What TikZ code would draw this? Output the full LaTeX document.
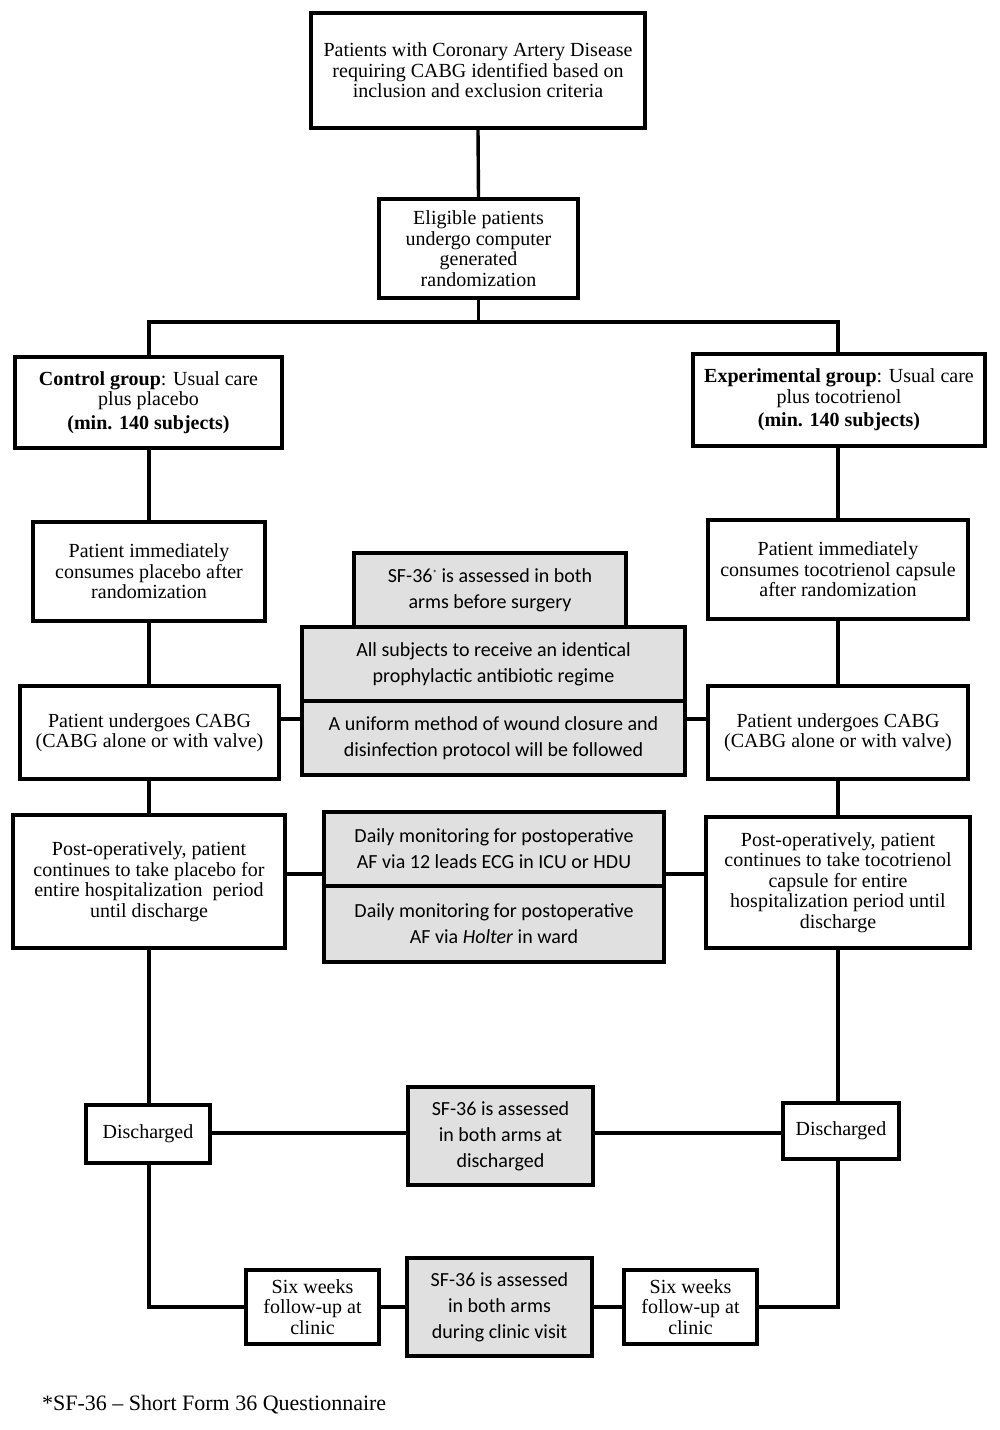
\documentclass[tikz,border=0pt]{standalone}
\usepackage{fontspec}
\setmainfont{Liberation Serif}
\newfontfamily\grayfont{Carlito}
\begin{document}
\begin{tikzpicture}[x=1pt,y=-1pt,
  box/.style={draw, line width=3.4pt, fill=white, align=center, inner sep=0pt,
    font=\fontsize{20}{20.5}\selectfont},
  gbox/.style={draw, line width=3.4pt, fill={rgb,255:red,224;green,224;blue,224}, align=center, inner sep=0pt,
    font=\grayfont\fontsize{20}{26}\selectfont},
  conn/.style={line width=3.4pt}]
\useasboundingbox (0,0) rectangle (1000,1430);
% nodes
\node[box, minimum width=334pt, minimum height=115pt] (top) at (478,70.5)
  {Patients with Coronary Artery Disease\\requiring CABG identified based on\\inclusion and exclusion criteria};
\node[box, minimum width=199pt, minimum height=99pt] (elig) at (478.5,248.5)
  {Eligible patients\\undergo computer\\generated\\randomization};
\node[box, minimum width=267pt, minimum height=91pt] (ctrl) at (148.5,402.5)
  {\textbf{Control group}: Usual care\\plus placebo\\[3pt]\textbf{(min. 140 subjects)}};
\node[box, minimum width=292pt, minimum height=92pt] (exp) at (839,400)
  {\textbf{Experimental group}: Usual care\\plus tocotrienol\\[3pt]\textbf{(min. 140 subjects)}};
\node[box, minimum width=232pt, minimum height=99pt] (plac) at (149,571.5)
  {Patient immediately\\consumes placebo after\\randomization};
\node[box, minimum width=260pt, minimum height=99pt] (toco) at (838,569.5)
  {Patient immediately\\consumes tocotrienol capsule\\after randomization};
\node[gbox, minimum width=272pt, minimum height=74pt] (sftop) at (490,590)
  {SF-36\raisebox{6pt}{\fontsize{9}{9}\selectfont *} is assessed in both\\arms before surgery};
\node[gbox, minimum width=383pt, minimum height=74pt] (allsub) at (493.5,664)
  {All subjects to receive an identical\\prophylactic antibiotic regime};
\node[gbox, minimum width=383pt, minimum height=74pt] (unif) at (493.5,738)
  {A uniform method of wound closure and\\disinfection protocol will be followed};
\node[box, minimum width=259pt, minimum height=93pt] (cabgL) at (149.5,732.5)
  {Patient undergoes CABG\\(CABG alone or with valve)};
\node[box, minimum width=260pt, minimum height=93pt] (cabgR) at (838,732.5)
  {Patient undergoes CABG\\(CABG alone or with valve)};
\node[box, minimum width=272pt, minimum height=133pt] (postL) at (149,881.5)
  {Post-operatively, patient\\continues to take placebo for\\entire hospitalization\ \ period\\until discharge};
\node[gbox, minimum width=340pt, minimum height=74pt] (day1) at (494,849)
  {Daily monitoring for postoperative\\AF via 12 leads ECG in ICU or HDU};
\node[gbox, minimum width=340pt, minimum height=76pt] (day2) at (494,924)
  {Daily monitoring for postoperative\\AF via \textit{Holter} in ward};
\node[box, minimum width=264pt, minimum height=131pt] (postR) at (838,882.5)
  {Post-operatively, patient\\continues to take tocotrienol\\capsule for entire\\hospitalization period until\\discharge};
\node[box, minimum width=124pt, minimum height=58pt] (dischL) at (148,1134) {Discharged};
\node[gbox, minimum width=185pt, minimum height=98pt] (sfdis) at (500.5,1136)
  {SF-36 is assessed\\in both arms at\\discharged};
\node[box, minimum width=116pt, minimum height=56pt] (dischR) at (841,1131) {Discharged};
\node[box, minimum width=133pt, minimum height=74pt] (sixL) at (312.5,1307)
  {Six weeks\\follow-up at\\clinic};
\node[gbox, minimum width=185pt, minimum height=98pt] (sfclin) at (499.5,1307)
  {SF-36 is assessed\\in both arms\\during clinic visit};
\node[box, minimum width=133pt, minimum height=74pt] (sixR) at (690.5,1307)
  {Six weeks\\follow-up at\\clinic};
\node[anchor=west, inner sep=0pt, font=\fontsize{22}{22}\selectfont] (foot) at (42,1405)
  {*SF-36 -- Short Form 36 Questionnaire};
% connectors
\coordinate (bl) at (149,322);
\coordinate (br) at (838,322);
\draw[conn] (top.south) -- (elig.north);
\draw[conn] (elig.south) -- (elig.south |- bl);
\draw[conn, line cap=rect] (bl) -- (br);
\draw[conn] (bl) -- (bl |- ctrl.north);
\draw[conn] (br) -- (br |- exp.north);
% left column
\draw[conn] (bl |- ctrl.south) -- (bl |- plac.north);
\draw[conn] (bl |- plac.south) -- (bl |- cabgL.north);
\draw[conn] (bl |- cabgL.south) -- (bl |- postL.north);
\draw[conn] (bl |- postL.south) -- (bl |- dischL.north);
% right column
\draw[conn] (br |- exp.south) -- (br |- toco.north);
\draw[conn] (br |- toco.south) -- (br |- cabgR.north);
\draw[conn] (br |- cabgR.south) -- (br |- postR.north);
\draw[conn] (br |- postR.south) -- (br |- dischR.north);
% horizontal links
\draw[conn] (cabgL.east |- 0,719) -- (unif.west |- 0,719);
\draw[conn] (unif.east |- 0,719) -- (cabgR.west |- 0,719);
\draw[conn] (postL.east |- 0,874) -- (day1.west |- 0,874);
\draw[conn] (day1.east |- 0,874) -- (postR.west |- 0,874);
\draw[conn] (dischL.east |- 0,1133) -- (sfdis.west |- 0,1133);
\draw[conn] (sfdis.east |- 0,1133) -- (dischR.west |- 0,1133);
\draw[conn, line join=miter] (bl |- dischL.south) |- (sixL.west);
\draw[conn] (sixL.east) -- (sfclin.west);
\draw[conn] (sfclin.east) -- (sixR.west);
\draw[conn, line join=miter] (sixR.east) -| (br |- dischR.south);
\end{tikzpicture}
\end{document}
